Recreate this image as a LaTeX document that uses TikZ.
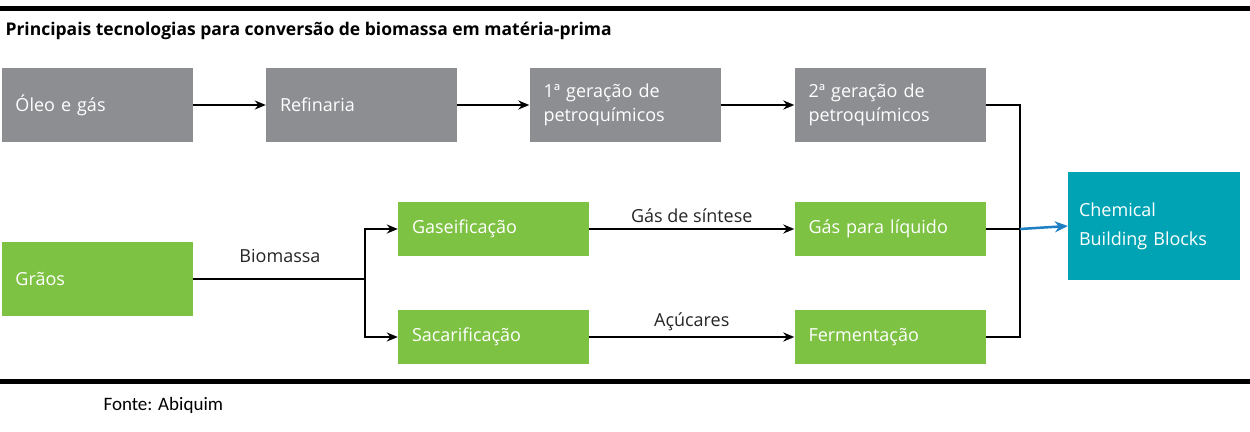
\documentclass[tikz,border=0pt]{standalone}
\usepackage{fontspec}
\setmainfont{Open Sans}
\newfontfamily\calib{Carlito}
\usetikzlibrary{arrows.meta}
\definecolor{gbox}{HTML}{8C8E91}
\definecolor{grn}{HTML}{7DC242}
\definecolor{teal}{HTML}{00A3B4}
\definecolor{arrb}{HTML}{1F7FC4}
\begin{document}
\begin{tikzpicture}[x=1pt,y=-1pt,
  box/.style={minimum width=191pt,text width=163pt,align=left,inner sep=0pt,text=white,font=\fontsize{18}{24}\selectfont},
  gbx/.style={box,fill=gbox,minimum height=74pt},
  grb/.style={box,fill=grn,minimum height=54pt},
  arr/.style={-{Stealth[length=11pt,width=9pt]},line width=2pt},
  ln/.style={line width=2pt},
  lab/.style={font=\fontsize{18}{22}\selectfont,text=black!85}]
\useasboundingbox (0,0) rectangle (1250,431);
\fill[white] (0,0) rectangle (1250,431);
\draw[line width=5pt] (0,8) -- (1250,8);
\draw[line width=5pt] (0,381) -- (1250,381);
\node[anchor=west,font=\bfseries\fontsize{17.5}{20}\selectfont] (title) at (2,31) {Principais tecnologias para conversão de biomassa em matéria-prima};
\node[gbx] (a) at (97,105) {Óleo e gás};
\node[gbx] (b) at (361.5,105) {Refinaria};
\node[gbx] (c) at (625,105) {1ª geração de\\petroquímicos};
\node[gbx] (d) at (890,105) {2ª geração de\\petroquímicos};
\node[box,fill=grn,minimum height=74pt] (g) at (97,279) {Grãos};
\node[grb] (ga) at (493.5,229) {Gaseificação};
\node[grb] (sa) at (493.5,337) {Sacarificação};
\node[grb] (gl) at (890,229) {Gás para líquido};
\node[grb] (fe) at (890,337) {Fermentação};
\node[fill=teal,minimum width=172pt,minimum height=108pt,text width=150pt,align=left,inner sep=0pt,text=white,font=\fontsize{18}{29}\selectfont] (cb) at (1154,226) {Chemical\\Building Blocks};
\draw[arr] (a) -- (b);
\draw[arr] (b) -- (c);
\draw[arr] (c) -- (d);
\coordinate (s) at (365,279);
\draw[ln] (g.east) -- (s);
\draw[arr] (s) |- (ga.west);
\draw[arr] (s) |- (sa.west);
\node[lab] (bio) at (280,256) {Biomassa};
\draw[arr] (ga) -- node[lab,above=2pt] {Gás de síntese} (gl);
\draw[arr] (sa) -- node[lab,above=2pt] {Açúcares} (fe);
\coordinate (j) at (1020,229);
\draw[line width=1.5pt] (d.east) -| (j);
\draw[line width=1.5pt] (fe.east) -| (j);
\draw[line width=1.5pt] (gl.east) -- (j);
\draw[-{Stealth[length=13pt,width=11pt]},line width=2.5pt,arrb] (j) -- (cb.west);
\node[anchor=west,font=\calib\fontsize{19}{22}\selectfont] (src) at (100,405) {Fonte: Abiquim};
\end{tikzpicture}
\end{document}
